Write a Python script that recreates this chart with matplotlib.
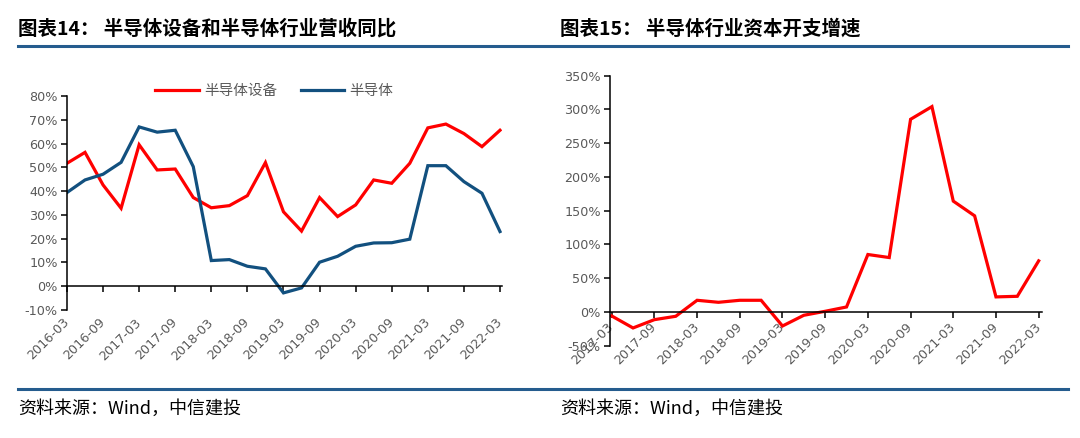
import matplotlib
matplotlib.use('Agg')
import matplotlib.pyplot as plt
from matplotlib.lines import Line2D

plt.rcParams['font.family'] = ['DejaVu Sans', 'Noto Sans CJK SC']
plt.rcParams['axes.unicode_minus'] = False

CJK = 'Noto Sans CJK SC'
GREY = '#595959'
RED = '#FF0000'
BLUE = '#12507F'
RULE = '#255C8E'
TICK_FS = 9.2

# 图表14: quarterly revenue growth (YoY, %), 2016-03 .. 2022-03
rev_quarters = ['2016-03', '2016-06', '2016-09', '2016-12', '2017-03', '2017-06',
                '2017-09', '2017-12', '2018-03', '2018-06', '2018-09', '2018-12',
                '2019-03', '2019-06', '2019-09', '2019-12', '2020-03', '2020-06',
                '2020-09', '2020-12', '2021-03', '2021-06', '2021-09', '2021-12',
                '2022-03']
equip_rev = [51.7, 56.3, 42.6, 32.8, 59.5, 48.9, 49.3, 37.3, 33.0, 33.9, 38.1, 52.0,
             31.3, 23.2, 37.3, 29.3, 34.2, 44.7, 43.3, 51.7, 66.6, 68.2, 64.2, 58.7,
             65.6]
semi_rev = [39.4, 44.7, 47.1, 52.1, 67.0, 64.8, 65.6, 50.3, 10.8, 11.2, 8.4, 7.3,
            -2.8, -0.7, 10.1, 12.6, 16.8, 18.2, 18.3, 19.8, 50.7, 50.7, 44.0, 39.1,
            23.0]

# 图表15: capex growth (%), 2017-03 .. 2022-03
capex_quarters = rev_quarters[4:]
capex = [-5.9, -23.7, -11.4, -6.4, 17.3, 14.3, 17.3, 17.3, -20.8, -4.9, 1.0, 7.4,
         85.1, 80.6, 285.4, 304.2, 164.2, 142.4, 22.3, 23.2, 75.7]

fig = plt.figure(figsize=(10.8, 4.38), dpi=100)


def style_axes(ax):
    for s in ['top', 'right']:
        ax.spines[s].set_visible(False)
    ax.spines['left'].set_linewidth(1.1)
    ax.spines['bottom'].set_linewidth(1.1)
    ax.spines['bottom'].set_position(('data', 0))
    ax.tick_params(axis='y', length=4, width=1.1, direction='out',
                   labelsize=TICK_FS, labelcolor=GREY, pad=2.5)
    ax.tick_params(axis='x', length=4, width=1.1, direction='out',
                   labelsize=TICK_FS, labelcolor=GREY)
    ax.yaxis.set_major_formatter(plt.FuncFormatter(lambda v, p: f'{v:.0f}%'))


def rotate_labels(labels):
    for lab in labels:
        lab.set_rotation(45)
        lab.set_ha('right')
        lab.set_va('center')
        lab.set_rotation_mode('anchor')


# ---- left chart
ax1 = fig.add_axes([0.0620, 0.2922, 0.4028, 0.4886])
x1 = list(range(len(rev_quarters)))
ax1.plot(x1, equip_rev, color=RED, lw=2.3, label='半导体设备', solid_joinstyle='miter')
ax1.plot(x1, semi_rev, color=BLUE, lw=2.3, label='半导体', solid_joinstyle='miter')
ax1.set_ylim(-10, 80)
ax1.set_yticks(range(-10, 81, 10))
ax1.set_xlim(0, 24.11)
style_axes(ax1)
ticks1 = x1[::2]
ax1.set_xticks(ticks1)
ax1.tick_params(axis='x', labelbottom=False)
sec = ax1.secondary_xaxis('bottom')
sec.set_xticks(ticks1)
sec.set_xticklabels(rev_quarters[::2])
sec.spines['bottom'].set_visible(False)
sec.tick_params(axis='x', length=0, pad=7.5, labelsize=TICK_FS, labelcolor=GREY)
rotate_labels(sec.get_xticklabels())

leg = fig.legend(handles=ax1.get_lines(), loc='center', ncol=2,
                 bbox_to_anchor=(0.254, 0.792), frameon=False, borderpad=0,
                 handlelength=3.0, handletextpad=0.35, columnspacing=1.6,
                 prop={'family': CJK, 'size': 10.5})
for t in leg.get_texts():
    t.set_color(GREY)

# ---- right chart
ax2 = fig.add_axes([0.5648, 0.2107, 0.3997, 0.6165])
x2 = list(range(len(capex_quarters)))
ax2.plot(x2, capex, color=RED, lw=2.3, solid_joinstyle='miter')
ax2.set_ylim(-50, 350)
ax2.set_yticks(range(-50, 351, 50))
ax2.set_xlim(-0.08, 20.14)
style_axes(ax2)
ax2.set_xticks(x2[::2])
ax2.set_xticklabels(capex_quarters[::2])
ax2.tick_params(axis='x', pad=5.2)
rotate_labels(ax2.get_xticklabels())

# ---- titles, rules, source notes
fig.text(18 / 1080, 1 - 29 / 438, '图表14： 半导体设备和半导体行业营收同比',
         family=CJK, fontsize=14, fontweight='bold', va='center', ha='left')
fig.text(560 / 1080, 1 - 29 / 438, '图表15： 半导体行业资本开支增速',
         family=CJK, fontsize=14, fontweight='bold', va='center', ha='left')
for yy in [46, 389]:
    fig.add_artist(Line2D([18 / 1080, 1068 / 1080], [1 - yy / 438] * 2,
                          transform=fig.transFigure, color=RULE, lw=2.2))
for xx in [18, 560]:
    fig.text(xx / 1080, 1 - 409 / 438, '资料来源：Wind，中信建投', family=CJK,
             fontsize=13, fontstyle='italic', va='center', ha='left')

fig.savefig('out.png', dpi=100)
